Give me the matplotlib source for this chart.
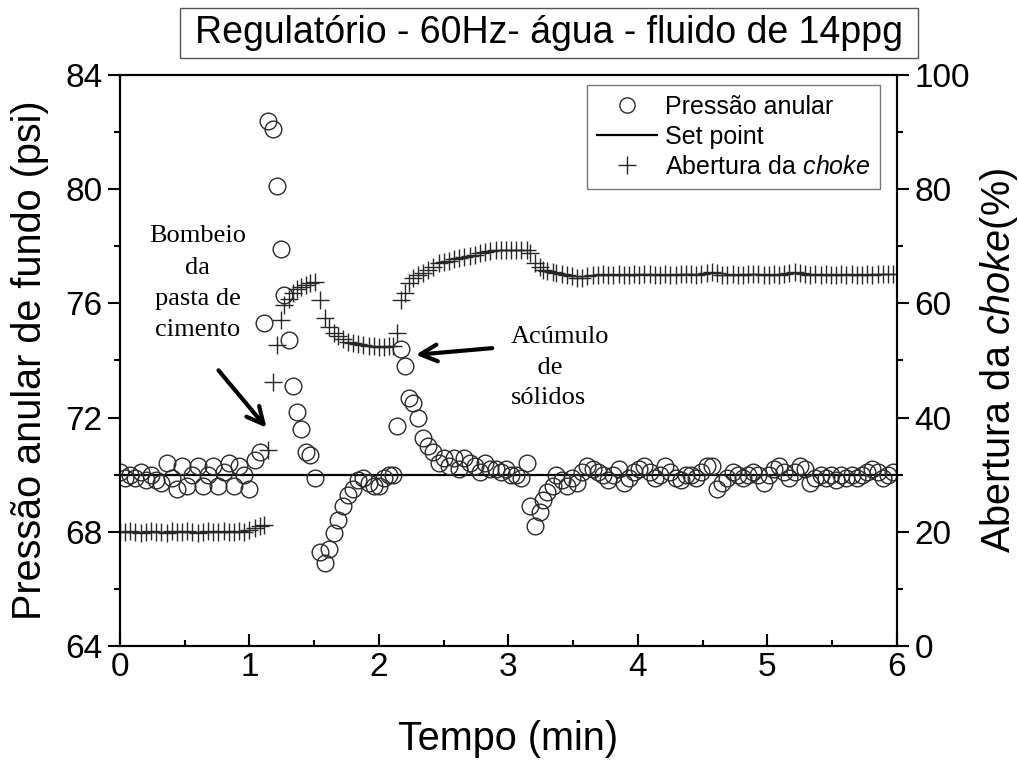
import matplotlib
matplotlib.use('Agg')
import matplotlib.pyplot as plt
from matplotlib.lines import Line2D
from matplotlib.patches import Rectangle
from matplotlib.ticker import MultipleLocator

plt.rcParams['font.family'] = ['Liberation Sans', 'DejaVu Sans']
plt.rcParams['mathtext.fontset'] = 'custom'
plt.rcParams['mathtext.rm'] = 'Liberation Sans'
plt.rcParams['mathtext.it'] = 'Liberation Sans:italic'

# tempo (min)
tempo = [0.00, 0.04, 0.08, 0.12, 0.16, 0.20, 0.24, 0.28, 0.32, 0.36,
         0.40, 0.44, 0.48, 0.52, 0.56, 0.60, 0.64, 0.68, 0.72, 0.76,
         0.80, 0.84, 0.88, 0.92, 0.96, 1.00, 1.04, 1.08,
         1.11, 1.145, 1.18, 1.21, 1.24, 1.27, 1.305, 1.335, 1.37, 1.40,
         1.435, 1.47, 1.505, 1.545, 1.58, 1.615, 1.65, 1.685, 1.72, 1.76,
         1.80, 1.84, 1.88, 1.92, 1.96, 2.00, 2.04, 2.08,
         2.11, 2.14, 2.17, 2.20, 2.23, 2.26, 2.30, 2.34,
         2.38, 2.42, 2.46, 2.50, 2.54, 2.58, 2.62, 2.66, 2.70, 2.74,
         2.78, 2.82, 2.86, 2.90, 2.94, 2.98, 3.02, 3.06, 3.10, 3.14,
         3.17, 3.205, 3.24, 3.27, 3.30, 3.34, 3.37,
         3.41, 3.45, 3.49, 3.53, 3.57, 3.61, 3.65, 3.69, 3.73, 3.77,
         3.81, 3.85, 3.89, 3.93, 3.97, 4.01, 4.05, 4.09, 4.13, 4.17,
         4.21, 4.25, 4.29, 4.33, 4.37, 4.41, 4.45, 4.49, 4.53, 4.57,
         4.61, 4.65, 4.69, 4.73, 4.77, 4.81, 4.85, 4.89, 4.93, 4.97,
         5.01, 5.05, 5.09, 5.13, 5.17, 5.21, 5.25, 5.29, 5.33, 5.37,
         5.41, 5.45, 5.49, 5.53, 5.57, 5.61, 5.65, 5.69, 5.73, 5.77,
         5.81, 5.85, 5.89, 5.93, 5.97]

# pressao anular de fundo (psi)
pressao = [70.1, 69.9, 70.0, 69.9, 70.1, 69.8, 70.0, 69.8, 69.7, 70.4,
           69.9, 69.5, 70.3, 69.6, 70.0, 70.3, 69.6, 70.0, 70.3, 69.6,
           70.1, 70.4, 69.6, 70.3, 70.0, 69.5, 70.5, 70.8,
           75.3, 82.4, 82.1, 80.1, 77.9, 76.3, 74.7, 73.1, 72.2, 71.6,
           70.8, 70.7, 69.9, 67.3, 66.9, 67.4, 67.95, 68.4, 68.9, 69.3,
           69.5, 69.8, 69.9, 69.7, 69.6, 69.6, 69.9, 70.0,
           70.0, 71.7, 74.4, 73.8, 72.7, 72.5, 72.0, 71.3,
           71.0, 70.8, 70.4, 70.6, 70.3, 70.6, 70.2, 70.6, 70.4, 70.3,
           70.1, 70.4, 70.2, 70.2, 70.1, 70.2, 70.0, 70.0, 69.9, 70.4,
           68.9, 68.2, 68.7, 69.1, 69.4, 69.6, 70.0,
           69.8, 69.6, 69.9, 69.7, 70.1, 70.3, 70.2, 70.1, 70.0, 69.8,
           70.0, 70.2, 69.7, 69.9, 70.1, 70.2, 70.3, 70.1, 69.9, 70.0,
           70.3, 70.1, 69.9, 69.8, 70.0, 70.0, 69.9, 70.1, 70.3, 70.3,
           69.5, 69.7, 69.9, 70.1, 70.0, 69.9, 70.0, 70.1, 70.0, 69.7,
           70.0, 70.2, 70.3, 70.1, 69.9, 70.1, 70.3, 70.2, 69.7, 69.9,
           70.0, 69.9, 70.0, 69.8, 70.0, 69.9, 70.0, 69.9, 70.0, 70.1,
           70.2, 70.1, 69.9, 70.0, 70.1]

# abertura da choke (%)
choke = [20.0, 19.9, 20.1, 20.0, 19.8, 20.0, 20.2, 19.9, 20.0, 19.8,
         20.1, 20.0, 19.9, 20.2, 20.0, 19.8, 20.0, 20.1, 19.9, 20.0,
         20.2, 20.0, 19.9, 20.1, 20.0, 20.3, 20.6, 21.0,
         21.2, 34.3, 46.3, 52.7, 57.1, 59.8, 60.8, 61.8, 62.5, 62.9,
         63.2, 63.5, 63.8, 60.6, 57.4, 55.9, 54.8, 54.2, 53.7, 53.3,
         53.0, 52.8, 52.7, 52.6, 52.5, 52.4, 52.4, 52.5,
         52.6, 54.8, 60.6, 61.8, 63.5, 64.4, 65.0, 65.4,
         65.8, 66.4, 67.0, 67.2, 67.5, 67.7, 67.9, 68.1, 68.3, 68.5,
         68.8, 69.0, 69.2, 69.3, 69.3, 69.3, 69.4, 69.4, 69.4, 69.4,
         68.8, 67.0, 66.4, 65.8, 65.6, 65.5, 65.3,
         65.1, 65.0, 64.8, 64.5, 64.5, 64.8, 65.0, 65.0, 65.1, 65.0,
         65.0, 65.1, 65.0, 65.0, 65.1, 65.0, 65.1, 65.2, 65.0, 65.0,
         65.1, 65.0, 65.0, 65.1, 65.2, 65.1, 65.0, 65.2, 65.4, 65.5,
         65.3, 65.0, 65.0, 65.1, 65.0, 65.0, 65.1, 65.2, 65.1, 65.0,
         65.0, 65.1, 65.0, 65.2, 65.3, 65.5, 65.4, 65.2, 65.0, 65.1,
         65.0, 65.1, 65.0, 65.0, 65.1, 65.0, 65.1, 65.0, 65.0, 65.1,
         65.0, 65.1, 65.2, 65.1, 65.2]

set_point = 70.0

fig = plt.figure(figsize=(10.2, 7.65), dpi=100)
ax = fig.add_axes([0.1176, 0.1556, 0.7618, 0.7464])
ax2 = ax.twinx()

ax.plot(tempo, pressao, 'o', ms=12, mfc='none', mec='#2a2a2a', mew=1.0, zorder=3)
ax.axhline(set_point, color='black', lw=1.6, zorder=2)
ax2.plot(tempo, choke, '+', ms=13, mec='#262626', mew=1.0)

ax.set_xlim(0, 6)
ax.set_ylim(64, 84)
ax2.set_ylim(0, 100)

ax.xaxis.set_major_locator(MultipleLocator(1))
ax.xaxis.set_minor_locator(MultipleLocator(0.5))
ax.yaxis.set_major_locator(MultipleLocator(4))
ax.yaxis.set_minor_locator(MultipleLocator(2))
ax2.yaxis.set_major_locator(MultipleLocator(20))
ax2.yaxis.set_minor_locator(MultipleLocator(10))

for a in (ax, ax2):
    for s in a.spines.values():
        s.set_linewidth(1.5)
    a.tick_params(which='major', direction='out', length=8.5, width=1.5, labelsize=24, pad=4)
    a.tick_params(which='minor', direction='out', length=4.5, width=1.5)
ax.tick_params(top=False, which='both')
ax.tick_params(axis='x', which='both', direction='in')
ax.tick_params(axis='x', which='major', pad=4)

ax.set_xlabel('Tempo (min)', fontsize=28.5, labelpad=27)
ax.set_ylabel('Pressão anular de fundo (psi)', fontsize=28.5, labelpad=12)
ax2.set_ylabel('Abertura da $\\it{choke}$(%)', fontsize=28.5, labelpad=6)

handles = [Line2D([], [], ls='none', marker='o', ms=11, mfc='none', mec='#2a2a2a', mew=1.0),
           Line2D([], [], color='black', lw=1.6),
           Line2D([], [], ls='none', marker='+', ms=13, mec='#262626', mew=1.0)]
labels = ['Pressão anular', 'Set point', 'Abertura da $\\it{choke}$']
leg = ax2.legend(handles, labels, loc='upper right', bbox_to_anchor=(0.978, 0.983),
                 fontsize=18, frameon=True, fancybox=False, handlelength=2.4,
                 handletextpad=0.3, labelspacing=0.24, borderpad=0.4, borderaxespad=0)
leg.get_frame().set_edgecolor('#555555')
leg.get_frame().set_linewidth(1.0)

serif = ['Liberation Serif', 'DejaVu Serif']
ax.text(0.6, 76.7, 'Bombeio\nda\npasta de\ncimento', ha='center', va='center',
        family=serif, fontsize=19, linespacing=1.55)
ax.annotate('', xy=(1.145, 71.57), xytext=(0.747, 73.73),
            arrowprops=dict(arrowstyle='->', color='black', lw=3, mutation_scale=30))
ax.text(3.02, 73.74, 'Acúmulo\n    de\nsólidos', ha='left', va='center',
        family=serif, fontsize=19, linespacing=1.5)
ax.annotate('', xy=(2.263, 74.19), xytext=(2.896, 74.44),
            arrowprops=dict(arrowstyle='->', color='black', lw=3, mutation_scale=30))

fig.patches.append(Rectangle((180 / 1020, 1 - 58 / 765), 738 / 1020, 50 / 765,
                             transform=fig.transFigure, fill=False,
                             edgecolor='#555555', lw=1.0))
fig.text(549 / 1020, 1 - 33 / 765, 'Regulatório - 60Hz- água - fluido de 14ppg',
         ha='center', va='center', fontsize=27)

plt.savefig('out.png', dpi=100)
